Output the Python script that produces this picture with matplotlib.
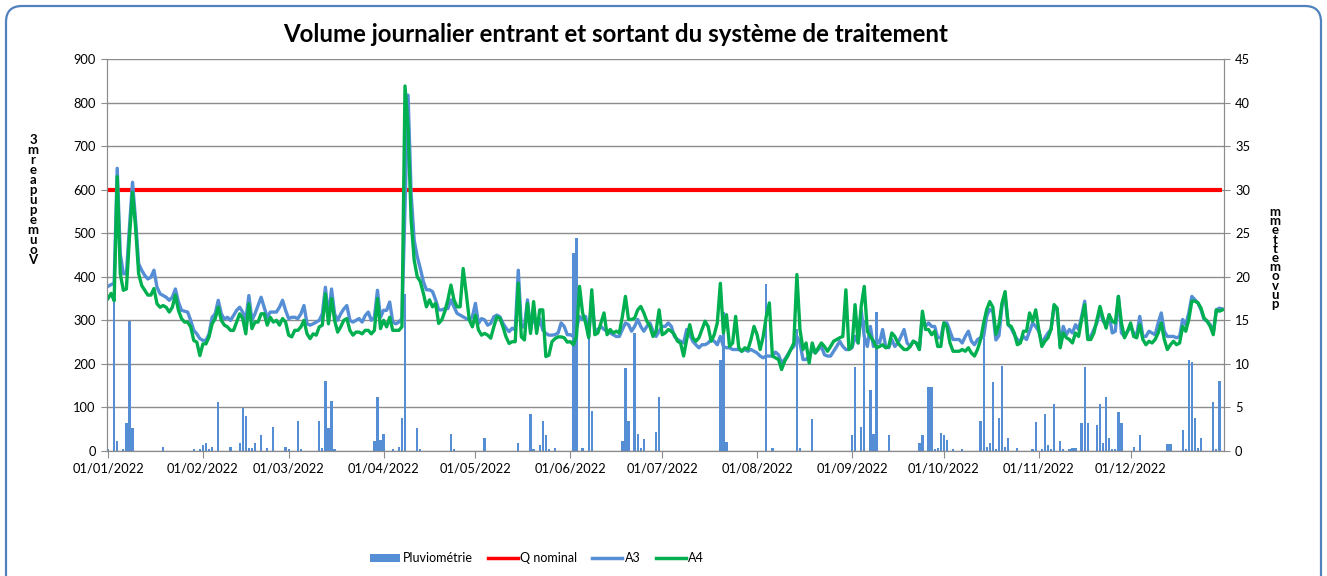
import matplotlib
matplotlib.use("Agg")
import matplotlib.pyplot as plt
import matplotlib.dates as mdates
from matplotlib.patches import FancyBboxPatch, Patch
from matplotlib.lines import Line2D
import numpy as np
import pandas as pd

plt.rcParams['font.family'] = ['Lato', 'DejaVu Sans']

title = "Volume journalier entrant et sortant du système de traitement"
start_date = "2022-01-01"
q_nominal = 600

a3 = [378, 382, 385, 649, 453, 407, 407, 514, 617, 529, 430, 415, 403, 395, 399, 415, 376, 361, 357, 353,
      346, 353, 372, 342, 323, 321, 319, 300, 277, 269, 258, 254, 254, 269, 307, 315, 346, 315, 303, 307,
      300, 311, 323, 330, 319, 300, 357, 300, 315, 334, 353, 330, 307, 319, 319, 319, 330, 346, 323, 304,
      307, 307, 304, 315, 334, 292, 289, 292, 296, 300, 315, 376, 307, 372, 315, 300, 315, 326, 334, 300,
      296, 300, 304, 296, 311, 319, 300, 307, 369, 307, 323, 323, 342, 296, 292, 296, 304, 560, 817, 591,
      484, 446, 419, 389, 370, 370, 366, 347, 324, 324, 327, 327, 347, 331, 316, 312, 308, 304, 301, 308,
      339, 293, 304, 301, 289, 293, 308, 312, 308, 293, 282, 274, 282, 278, 415, 285, 285, 347, 278, 316,
      278, 304, 278, 270, 266, 266, 267, 271, 294, 286, 267, 267, 263, 282, 309, 302, 309, 263, 355, 275,
      279, 286, 279, 275, 271, 267, 263, 263, 279, 294, 290, 275, 286, 302, 286, 275, 286, 294, 275, 263,
      275, 286, 286, 294, 286, 263, 256, 252, 248, 279, 267, 252, 244, 237, 244, 244, 248, 256, 252, 244,
      263, 240, 237, 237, 233, 233, 233, 229, 233, 229, 233, 229, 225, 218, 214, 218, 218, 218, 227, 221,
      202, 210, 221, 233, 240, 263, 248, 210, 210, 218, 233, 225, 233, 240, 221, 218, 218, 229, 240, 252,
      240, 233, 233, 237, 263, 248, 324, 263, 240, 286, 240, 256, 248, 279, 240, 237, 256, 240, 248, 263,
      279, 248, 240, 252, 248, 233, 309, 286, 294, 286, 286, 260, 260, 294, 294, 275, 256, 256, 256, 248,
      263, 275, 252, 244, 256, 260, 263, 310, 325, 320, 255, 265, 335, 355, 290, 282, 267, 256, 252, 263,
      256, 275, 294, 286, 275, 248, 260, 271, 279, 332, 324, 240, 286, 267, 279, 271, 290, 279, 309, 344,
      263, 263, 279, 294, 324, 298, 290, 313, 271, 275, 355, 271, 263, 275, 286, 271, 267, 309, 263, 263,
      275, 271, 267, 294, 317, 275, 263, 263, 263, 260, 263, 302, 290, 317, 355, 347, 340, 324, 302, 298,
      290, 271, 324, 328, 326]

a4 = [350, 362, 345, 630, 407, 369, 372, 491, 594, 514, 407, 380, 369, 358, 358, 373, 338, 330, 334, 330,
      319, 330, 358, 323, 304, 296, 296, 285, 254, 250, 219, 246, 246, 262, 292, 304, 330, 300, 289, 285,
      277, 277, 296, 315, 304, 269, 338, 281, 296, 296, 315, 315, 289, 307, 296, 300, 289, 304, 296, 266,
      262, 277, 277, 285, 300, 269, 258, 269, 266, 285, 289, 361, 292, 350, 300, 273, 285, 300, 304, 277,
      266, 273, 273, 269, 277, 277, 269, 277, 350, 281, 300, 285, 307, 277, 277, 277, 285, 838, 744, 530,
      438, 400, 389, 362, 331, 347, 331, 339, 293, 301, 320, 347, 381, 347, 331, 331, 419, 362, 301, 285,
      312, 278, 266, 270, 266, 259, 285, 308, 305, 285, 262, 247, 251, 251, 385, 262, 255, 339, 270, 343,
      270, 324, 324, 217, 220, 251, 258, 262, 262, 260, 250, 251, 244, 263, 378, 317, 294, 260, 370, 267,
      271, 294, 317, 267, 279, 271, 275, 271, 309, 355, 302, 302, 305, 324, 332, 317, 298, 286, 263, 275,
      324, 267, 271, 279, 275, 267, 252, 248, 218, 256, 290, 260, 252, 260, 279, 298, 286, 252, 267, 294,
      385, 271, 313, 240, 248, 309, 237, 229, 237, 233, 256, 286, 267, 233, 263, 309, 340, 218, 214, 210,
      187, 206, 218, 233, 248, 405, 279, 233, 248, 202, 248, 225, 237, 248, 240, 229, 240, 252, 256, 260,
      263, 370, 233, 240, 336, 248, 332, 378, 275, 263, 252, 237, 240, 244, 237, 240, 271, 263, 248, 240,
      233, 233, 240, 252, 248, 233, 321, 279, 279, 267, 275, 240, 240, 294, 286, 248, 229, 229, 229, 233,
      229, 237, 225, 218, 233, 256, 294, 325, 343, 330, 268, 290, 340, 366, 290, 286, 271, 244, 248, 275,
      275, 317, 298, 324, 279, 240, 252, 260, 279, 336, 328, 237, 271, 260, 256, 248, 271, 263, 302, 336,
      256, 256, 271, 302, 332, 305, 282, 313, 298, 294, 355, 294, 260, 275, 294, 263, 260, 290, 256, 244,
      252, 248, 256, 271, 294, 256, 233, 244, 252, 244, 248, 286, 275, 302, 344, 344, 340, 328, 305, 298,
      286, 267, 324, 321, 324]

# Rainfall (mm): day of year index (0 = 01/01/2022) and value
rain_days = [0, 2, 3, 5, 6, 7, 8, 18, 28, 30, 31, 32, 33, 34, 36, 40, 43, 44, 45, 46, 47, 48, 50, 52, 54,
             58, 59, 62, 63, 69, 70, 71, 72, 73, 74, 87, 88, 89, 90, 93, 95, 96, 97, 101, 102, 112, 113,
             123, 134, 138, 139, 141, 142, 143, 144, 146, 152, 153, 155, 157, 158, 168, 169, 170, 172,
             173, 174, 175, 179, 180, 200, 201, 202, 215, 217, 225, 226, 230, 243, 244, 246, 247, 249,
             250, 251, 255, 265, 266, 268, 269, 270, 271, 272, 273, 274, 276, 279, 285, 286, 287, 288,
             289, 290, 291, 292, 293, 294, 297, 302, 303, 305, 306, 307, 308, 309, 311, 312, 314, 315,
             316, 318, 319, 320, 323, 324, 325, 326, 327, 328, 329, 330, 331, 335, 337, 346, 347, 351,
             352, 353, 354, 355, 356, 357, 361, 362, 363]
rain_mm = [0.2, 17.5, 1.2, 0.2, 3.2, 14.9, 2.6, 0.5, 0.2, 0.2, 0.7, 0.9, 0.2, 0.5, 5.6, 0.5, 0.9, 4.9, 4.0,
           0.3, 0.3, 0.9, 1.8, 0.3, 2.8, 0.5, 0.2, 3.4, 0.2, 3.4, 0.3, 8.0, 2.6, 5.7, 0.2, 1.1, 6.2, 1.3,
           2.0, 0.2, 0.5, 3.8, 18.0, 2.6, 0.2, 2.0, 0.2, 1.5, 0.9, 4.3, 0.2, 0.7, 3.4, 1.8, 0.2, 0.3,
           22.7, 24.5, 0.3, 13.1, 4.6, 1.1, 9.5, 3.4, 13.6, 2.0, 0.3, 1.4, 2.2, 6.2, 10.4, 16.0, 1.0,
           19.2, 0.3, 14.0, 0.3, 3.7, 1.8, 9.6, 2.7, 15.0, 7.0, 2.0, 16.0, 1.8, 0.9, 1.8, 7.3, 7.4, 0.2,
           0.3, 2.1, 1.8, 1.3, 0.2, 0.2, 3.4, 13.0, 0.5, 0.9, 7.9, 0.2, 3.8, 9.8, 0.5, 1.5, 0.3, 0.2,
           3.3, 0.2, 4.3, 0.7, 0.2, 5.4, 1.1, 0.2, 0.2, 0.3, 0.3, 3.2, 9.7, 3.2, 3.0, 5.4, 0.9, 6.2, 1.5,
           0.2, 0.2, 4.5, 3.2, 0.5, 1.8, 0.8, 0.8, 2.4, 0.2, 10.4, 10.2, 3.8, 0.3, 1.5, 5.6, 0.2, 8.0]

left_ticks = list(range(0, 901, 100))
right_ticks = list(range(0, 46, 5))

dates = pd.date_range(start_date, periods=len(a3), freq="D")
rain = np.zeros(len(a3))
for d, v in zip(rain_days, rain_mm):
    rain[d] = v

BLUE = "#558ED5"
GREEN = "#00B050"
RED = "#FF0000"
GRID = "#8C8C8C"

fig = plt.figure(figsize=(13.27, 5.76), dpi=100)
fig.patch.set_facecolor("white")

border = FancyBboxPatch((0.06, -0.3), 13.15, 6.0, boxstyle="round,pad=0,rounding_size=0.16",
                        transform=fig.dpi_scale_trans, facecolor="none", edgecolor="#4F81BD",
                        linewidth=1.6, clip_on=False)
fig.patches.append(border)

ax2 = fig.add_axes([107/1327, 1-451/576, (1224-107)/1327, (451-59)/576])
ax = ax2.twinx()
ax.yaxis.tick_left()
ax.yaxis.set_label_position("left")
ax2.yaxis.tick_right()
ax2.yaxis.set_label_position("right")
ax.set_zorder(ax2.get_zorder() + 1)
ax.patch.set_visible(False)

# bars on the secondary (rain) scale, behind the lines
ax2.bar(dates, rain, width=0.75, color=BLUE, zorder=2)
ax2.set_ylim(0, 45)
ax2.set_yticks(right_ticks)
ax2.grid(axis="y", color=GRID, linewidth=1.0, zorder=0)
ax2.set_axisbelow(True)

ax.plot(dates, [q_nominal] * len(dates), color=RED, linewidth=3.0, solid_capstyle="butt")
ax.plot(dates, a3, color=BLUE, linewidth=2.4)
ax.plot(dates, a4, color=GREEN, linewidth=2.4)
ax.set_ylim(0, 900)
ax.set_yticks(left_ticks)

xmin = dates[0] - pd.Timedelta(hours=8)
xmax = dates[-1] + pd.Timedelta(hours=12)
ax2.set_xlim(xmin, xmax)
ax.set_xlim(xmin, xmax)
ax2.xaxis.set_major_locator(mdates.MonthLocator(bymonthday=1))
ax2.xaxis.set_major_formatter(mdates.DateFormatter("%d/%m/%Y"))

for a in (ax, ax2):
    for s in a.spines.values():
        s.set_color(GRID)
    a.spines["top"].set_visible(False)
ax.tick_params(axis="y", which="both", direction="out", length=4, color=GRID, labelsize=9.3, pad=4)
ax2.tick_params(axis="y", which="both", direction="out", length=4, color=GRID, labelsize=9.3, pad=4)
ax2.tick_params(axis="x", direction="out", length=5, color=GRID, labelsize=9.3, pad=3)

fig.text(616/1327, 1-34/576, title, ha="center", va="center", fontsize=17.3, fontweight="bold")

fig.text(33/1327, 1-200/576, "3\nm\nr\ne\na\np\nu\np\ne\nm\nu\no\nV", ha="center", va="center",
         fontsize=9.5, fontweight="bold", linespacing=0.8)
fig.text(1275/1327, 1-258/576, "m\nm\ne\nt\nt\ne\nm\no\nv\nu\np", ha="center", va="center",
         fontsize=9.5, fontweight="bold", linespacing=0.72)

handles = [Patch(facecolor=BLUE, edgecolor="none"),
           Line2D([], [], color=RED, linewidth=2.5),
           Line2D([], [], color=BLUE, linewidth=2.5),
           Line2D([], [], color=GREEN, linewidth=2.5)]
labels = ["Pluviométrie", "Q nominal", "A3", "A4"]
fig.legend(handles, labels, loc="center", bbox_to_anchor=(537/1327, 1-558/576), ncol=4,
           frameon=False, fontsize=9, handlelength=2.4, handleheight=0.6, columnspacing=1.2,
           handletextpad=0.2)

fig.savefig("out.png", dpi=100, facecolor="white")
